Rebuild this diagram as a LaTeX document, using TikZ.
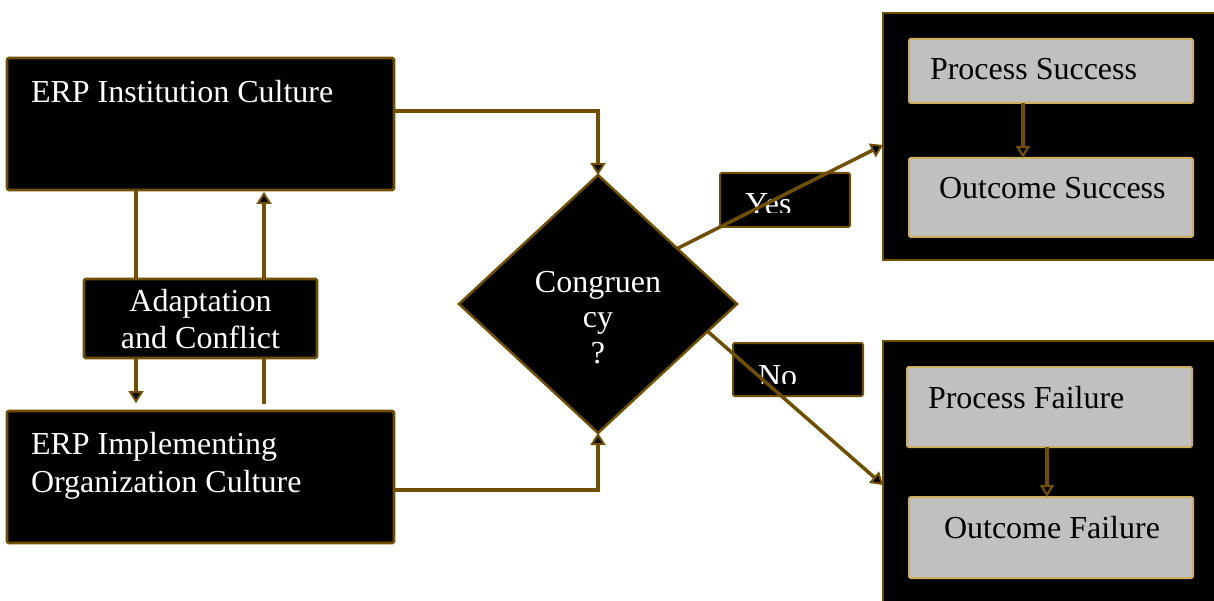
\documentclass[tikz,border=0pt]{standalone}
\usepackage{fontspec}
\setmainfont{Liberation Serif}
\usetikzlibrary{shapes.geometric,arrows.meta}
\definecolor{rim}{RGB}{112,80,0}
\definecolor{gold}{RGB}{205,175,95}
\definecolor{panel}{RGB}{192,192,192}

\begin{document}
\begin{tikzpicture}[x=1pt,y=-1pt,
  every node/.style={inner sep=0pt, outer sep=0pt},
  darkbox/.style={rectangle, draw=rim, line width=2.7pt, fill=black,
    rounded corners=1.5pt, anchor=north west},
  outerbox/.style={rectangle, draw=rim, line width=2pt, fill=black, anchor=north west},
  greybox/.style={rectangle, draw=gold, line width=2pt, fill=panel,
    rounded corners=1.5pt, anchor=north west},
  decision/.style={diamond, draw=rim, line width=2.5pt, fill=black},
  wtxt/.style={text=white, font=\fontsize{32}{38}\selectfont},
  btxt/.style={text=black, font=\fontsize{32}{38}\selectfont},
  conn/.style={draw=rim, line width=3.5pt},
  arr/.style={conn, -{Triangle[width=15pt, length=12pt, fill=black, line width=2pt]}},
  innerarr/.style={draw=rim, line width=3.5pt, -{Triangle[open, width=14pt, length=12pt, line width=2.2pt]}}
]
\useasboundingbox (0,0) rectangle (1214,601);

% left column: the two cultures and their exchange
\node[darkbox, minimum width=387pt, minimum height=132pt] (inst) at (7,58) {};
\node[wtxt, anchor=base west] (insttxt) at (31,103) {ERP Institution Culture};

\node[darkbox, minimum width=387pt, minimum height=132pt] (impl) at (7,411) {};
% multi-line text: the base anchor sits on the last line
\node[wtxt, anchor=base west, align=left] (impltxt) at (31,492)
  {ERP Implementing\\Organization Culture};

\node[darkbox, minimum width=233pt, minimum height=79pt] (adapt) at (84,279) {};
\node[wtxt, font=\fontsize{32}{36.5}\selectfont, anchor=base, align=center] (adapttxt)
  at (200.5,348) {Adaptation\\and Conflict};

% decision
\node[decision, minimum width=278pt, minimum height=258pt] (cong) at (598,304) {};
\node[wtxt, font=\fontsize{32}{35.5}\selectfont, anchor=base, align=center] (congtxt)
  at (598,363) {Congruen\\cy\\?};

% outcome panels
\node[outerbox, minimum width=340pt, minimum height=247pt] (succ) at (883,13) {};
\node[greybox, minimum width=284pt, minimum height=64pt] (ps) at (909,39) {};
\node[btxt, anchor=base west] (pstxt) at (930,80) {Process Success};
\node[greybox, minimum width=284pt, minimum height=79pt] (os) at (909,158) {};
\node[btxt, anchor=base west] (ostxt) at (939,199) {Outcome Success};

\node[outerbox, minimum width=340pt, minimum height=270pt] (fail) at (883,341) {};
\node[greybox, minimum width=285pt, minimum height=80pt] (pf) at (907,367) {};
\node[btxt, anchor=base west] (pftxt) at (928,408) {Process Failure};
\node[greybox, minimum width=284pt, minimum height=81pt] (of) at (909,497) {};
\node[btxt, anchor=base west] (oftxt) at (944,538) {Outcome Failure};

% branch labels
\node[darkbox, line width=2pt, minimum width=130pt, minimum height=54pt] (yes) at (720,173) {};
\begin{scope}
  \clip (720,173) rectangle (850,213);
  \node[wtxt, anchor=base west] (yestxt) at (745,215) {Yes};
\end{scope}
\node[darkbox, line width=2pt, minimum width=130pt, minimum height=53pt] (no) at (733,343) {};
\begin{scope}
  \clip (733,343) rectangle (863,383);
  \node[wtxt, anchor=base west] (notxt) at (758,386) {No};
\end{scope}

% connectors
\draw[arr] (inst.east |- 0,111) -| (cong.north);
\draw[arr] (impl.east |- 0,490) -| (cong.south);

\draw[conn] (inst.south -| 136,0) -- (adapt.north -| 136,0);
\draw[arr, shorten >=8pt] (adapt.south -| 136,0) -- (impl.north -| 136,0);
\draw[conn, shorten <=7pt] (impl.north -| 264,0) -- (adapt.south -| 264,0);
\draw[arr, shorten >=2pt] (adapt.north -| 264,0) -- (inst.south -| 264,0);

\draw[arr] (cong.35) -- (succ.west |- 0,145);
\draw[arr] (cong.-14) -- (fail.west |- 0,485);

\draw[innerarr] (ps.south -| 1023,0) -- (os.north -| 1023,0);
\draw[innerarr] (pf.south -| 1047,0) -- (of.north -| 1047,0);
\end{tikzpicture}
\end{document}
